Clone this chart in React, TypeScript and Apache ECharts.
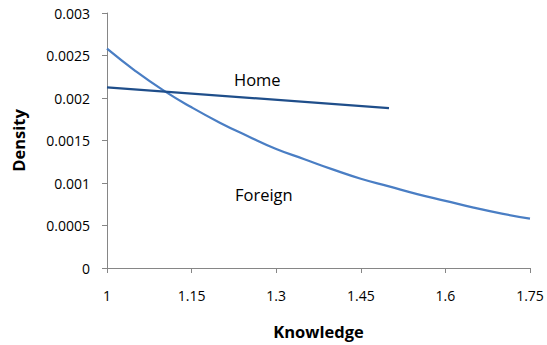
import React, { useEffect, useRef } from "react";
import * as echarts from "echarts";

// Knowledge values (x) and the density of each group at those values
const foreignX = [1.0, 1.05, 1.1, 1.15, 1.2, 1.25, 1.3, 1.35, 1.4, 1.45, 1.5, 1.55, 1.6, 1.65, 1.7, 1.75];
const foreignDensity = [
  0.00258, 0.00232, 0.00209, 0.00189, 0.00171, 0.00155, 0.0014, 0.00128,
  0.00116, 0.00105, 0.00096, 0.00087, 0.00079, 0.00071, 0.00064, 0.00058,
];
const homeX = [1.0, 1.5];
const homeDensity = [0.002125, 0.00188];

const xTicks = [1, 1.15, 1.3, 1.45, 1.6, 1.75];

const FONT = "'Open Sans', sans-serif";
const AXIS_GRAY = "#868686";

export default function App() {
  const ref = useRef<HTMLDivElement>(null);

  useEffect(() => {
    if (!ref.current) return;
    const chart = echarts.init(ref.current, undefined, { renderer: "svg" });
    chart.setOption({
      animation: false,
      backgroundColor: "#ffffff",
      grid: { left: 107, right: 17, top: 13, bottom: 77 },
      xAxis: {
        type: "value",
        min: 1,
        max: 1.75,
        name: "Knowledge",
        nameLocation: "middle",
        nameGap: 55,
        nameTextStyle: { fontFamily: FONT, fontWeight: "bold", fontSize: 16.5, color: "#000" },
        axisLine: { show: true, lineStyle: { color: AXIS_GRAY, width: 1 } },
        axisTick: { show: true, length: 5, lineStyle: { color: AXIS_GRAY }, customValues: xTicks },
        axisLabel: {
          fontFamily: FONT,
          fontSize: 14,
          color: "#000",
          margin: 20,
          customValues: xTicks,
          formatter: (v: number) => String(+v.toFixed(2)),
        },
        splitLine: { show: false },
      },
      yAxis: {
        type: "value",
        min: 0,
        max: 0.003,
        interval: 0.0005,
        name: "Density",
        nameLocation: "middle",
        nameGap: 80,
        nameRotate: 90,
        nameTextStyle: { fontFamily: FONT, fontWeight: "bold", fontSize: 16.5, color: "#000" },
        axisLine: { show: true, lineStyle: { color: AXIS_GRAY, width: 1 } },
        axisTick: { show: true, length: 5, lineStyle: { color: AXIS_GRAY } },
        axisLabel: {
          fontFamily: FONT,
          fontSize: 14,
          color: "#000",
          margin: 17,
          formatter: (v: number) => String(+v.toFixed(4)),
        },
        splitLine: { show: false },
      },
      series: [
        {
          name: "Foreign",
          type: "line",
          smooth: true,
          showSymbol: false,
          data: foreignX.map((x, i) => [x, foreignDensity[i]]),
          lineStyle: { color: "#4a7ec4", width: 2.25 },
          z: 2,
        },
        {
          name: "Home",
          type: "line",
          showSymbol: false,
          data: homeX.map((x, i) => [x, homeDensity[i]]),
          lineStyle: { color: "#1f4e8a", width: 2.25 },
          z: 3,
        },
      ],
      graphic: [
        {
          type: "text",
          left: 234,
          top: 71,
          style: { text: "Home", font: `16.5px ${FONT}`, fill: "#000" },
        },
        {
          type: "text",
          left: 235,
          top: 186,
          style: { text: "Foreign", font: `16.5px ${FONT}`, fill: "#000" },
        },
      ],
    });
    return () => chart.dispose();
  }, []);

  return (
    <div
      ref={ref}
      style={{ position: "fixed", left: 0, top: 0, width: 547, height: 345 }}
    />
  );
}
